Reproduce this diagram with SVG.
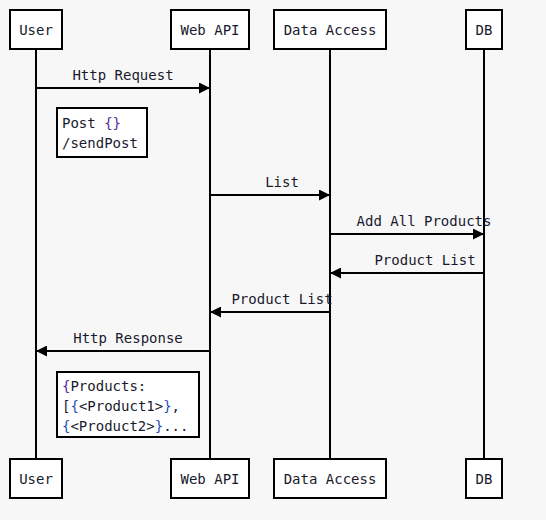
<svg xmlns="http://www.w3.org/2000/svg" width="546" height="520" viewBox="0 0 546 520">
<defs>
<style>
text{font-family:"DejaVu Sans Mono","Liberation Mono",monospace;font-size:14px;fill:#1a1a2e}
.box{fill:#ffffff;stroke:#000;stroke-width:2}
.life{stroke:#000;stroke-width:2}
.msg{stroke:#000;stroke-width:2;fill:none;marker-end:url(#arr)}
.c{text-anchor:middle}
.br{fill:#5b2aa0}
.bb{fill:#1f4fb5}
</style>
<marker id="arr" viewBox="0 0 10 10" refX="10" refY="5" markerWidth="5.5" markerHeight="5.5" orient="auto" markerUnits="strokeWidth">
<path d="M0,0 L10,5 L0,10 z" fill="#000"/>
</marker>
</defs>
<rect width="546" height="520" fill="#f7f7f7"/>
<g id="lifelines">
<line class="life" x1="36" y1="49" x2="36" y2="459"/>
<line class="life" x1="210" y1="49" x2="210" y2="459"/>
<line class="life" x1="330" y1="49" x2="330" y2="459"/>
<line class="life" x1="484" y1="49" x2="484" y2="459"/>
</g>
<g id="user">
<rect class="box" x="10" y="10" width="52" height="39"/>
<text class="c" x="36" y="35">User</text>
<rect class="box" x="10" y="459" width="52" height="39"/>
<text class="c" x="36" y="484">User</text>
</g>
<g id="webapi">
<rect class="box" x="171" y="10" width="78" height="39"/>
<text class="c" x="210" y="35">Web API</text>
<rect class="box" x="171" y="459" width="78" height="39"/>
<text class="c" x="210" y="484">Web API</text>
</g>
<g id="dataaccess">
<rect class="box" x="274" y="10" width="112" height="39"/>
<text class="c" x="330" y="35">Data Access</text>
<rect class="box" x="274" y="459" width="112" height="39"/>
<text class="c" x="330" y="484">Data Access</text>
</g>
<g id="db">
<rect class="box" x="466" y="10" width="36" height="39"/>
<text class="c" x="484" y="35">DB</text>
<rect class="box" x="466" y="459" width="36" height="39"/>
<text class="c" x="484" y="484">DB</text>
</g>
<g id="connectors">
<line class="msg" x1="36" y1="88" x2="210" y2="88"/>
<text class="c" x="123" y="80">Http Request</text>
<line class="msg" x1="210" y1="195" x2="330" y2="195"/>
<text class="c" x="282" y="187">List</text>
<line class="msg" x1="330" y1="234" x2="484" y2="234"/>
<text class="c" x="424" y="226">Add All Products</text>
<line class="msg" x1="484" y1="273" x2="330" y2="273"/>
<text class="c" x="425" y="265">Product List</text>
<line class="msg" x1="330" y1="312" x2="210" y2="312"/>
<text class="c" x="282" y="304">Product List</text>
<line class="msg" x1="210" y1="351" x2="36" y2="351"/>
<text class="c" x="128" y="343">Http Response</text>
</g>
<g id="note1">
<rect class="box" x="57" y="108" width="90" height="49"/>
<text x="62" y="128">Post <tspan class="br">{}</tspan></text>
<text x="62" y="148">/sendPost</text>
</g>
<g id="note2">
<rect class="box" x="57" y="372" width="142" height="65"/>
<text x="62" y="391"><tspan class="br">{</tspan>Products:</text>
<text x="62" y="411">[<tspan class="bb">{</tspan>&lt;Product1&gt;<tspan class="bb">}</tspan>,</text>
<text x="62" y="431"><tspan class="bb">{</tspan>&lt;Product2&gt;<tspan class="bb">}</tspan>...</text>
</g>
</svg>
